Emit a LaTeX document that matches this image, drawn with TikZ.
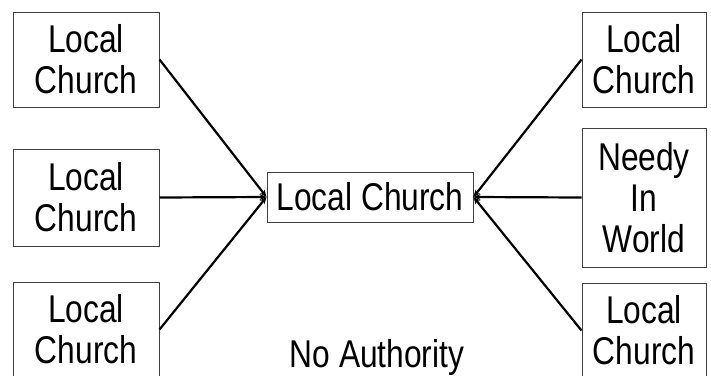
\documentclass[tikz,border=0pt]{standalone}
\usepackage{fontspec}
\setmainfont{Liberation Sans}[FakeStretch=0.82]
\usetikzlibrary{arrows.meta}
\begin{document}
\begin{tikzpicture}[x=1pt,y=-1pt,
  box/.style={draw=black!75, line width=1pt, align=center, inner sep=0pt,
    font=\fontsize{38.7}{41}\selectfont},
  label/.style={inner sep=0pt, font=\fontsize{38.7}{40}\selectfont},
  conn/.style={line width=2.2pt, -{Stealth[length=7pt,width=6pt]}}]
\useasboundingbox (0,0) rectangle (711,375);
\clip (0,0) rectangle (711,375);
% left column
\node[box, minimum width=146pt, minimum height=95pt] (l1) at (86,59.5) {Local\\Church};
\node[box, minimum width=146pt, minimum height=97pt] (l2) at (86,197.5) {Local\\Church};
\node[box, minimum width=146pt, minimum height=95pt] (l3) at (86,329.5) {Local\\Church};
% centre
\node[box, minimum width=206pt, minimum height=50pt] (c) at (370,197) {Local Church};
% right column
\node[box, minimum width=124pt, minimum height=95pt] (r1) at (644,59.5) {Local\\Church};
\node[box, minimum width=124pt, minimum height=139pt] (r2) at (644,197.5) {Needy\\In\\World};
\node[box, minimum width=124pt, minimum height=95pt] (r3) at (644,330.5) {Local\\Church};
% label
\node[label] (na) at (377,357) {No Authority};
% connectors
\draw[conn] (l1.east) -- (c.west);
\draw[conn] (l2.east) -- (c.west);
\draw[conn] (l3.east) -- (c.west);
\draw[conn] (r1.west) -- (c.east);
\draw[conn] (r2.west) -- (c.east);
\draw[conn] (r3.west) -- (c.east);
\end{tikzpicture}
\end{document}
